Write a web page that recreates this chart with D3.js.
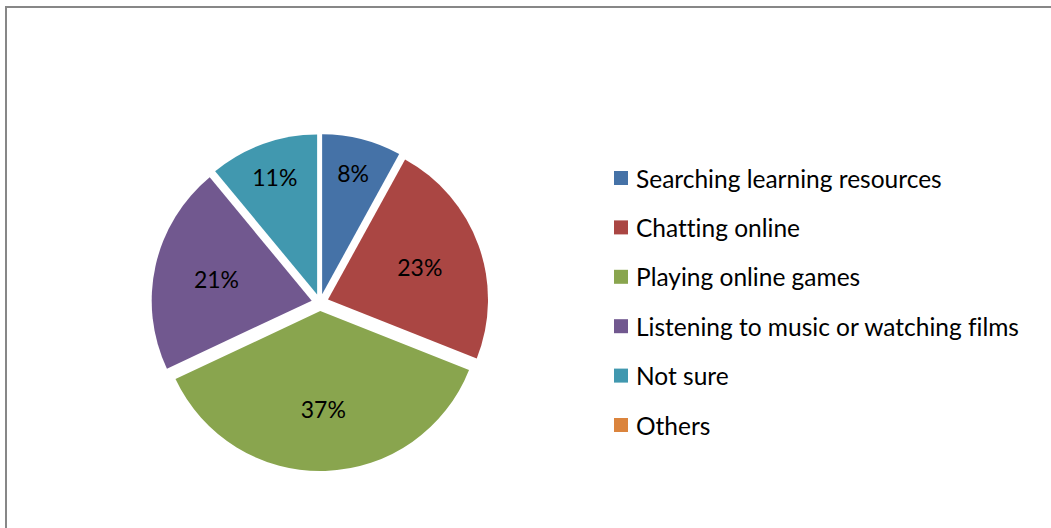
<!DOCTYPE html>
<html>
<head>
<meta charset="utf-8">
<script src="https://cdn.jsdelivr.net/npm/d3@7"></script>
<style>
  html, body { margin: 0; padding: 0; background: #fff; }
  svg { display: block; }
  text { font-family: Lato, "Open Sans", sans-serif; fill: #000; font-variant-ligatures: none; }
</style>
</head>
<body>
<svg id="chart" width="1051" height="528"></svg>
<script>
// Survey answers: how students use the internet
const categories = [
  "Searching learning resources",
  "Chatting online",
  "Playing online games",
  "Listening to music or watching films",
  "Not sure",
  "Others"
];
const shares = [8, 23, 37, 21, 11, 0];
const colors = ["#4572A7", "#AA4643", "#89A54E", "#71588F", "#4198AF", "#DB843D"];

const W = 1051, H = 528;
const svg = d3.select("#chart");

// chart frame
svg.append("rect")
  .attr("x", 6).attr("y", 7)
  .attr("width", W + 20).attr("height", H + 20)
  .attr("fill", "none")
  .attr("stroke", "#878787")
  .attr("stroke-width", 2);

const cx = 320, cy = 302.5, radius = 160, explode = 8.5;

const pie = d3.pie().sort(null).value(d => d.value);
const arc = d3.arc().innerRadius(0).outerRadius(radius);

const data = categories.map((c, i) => ({ name: c, value: shares[i], color: colors[i] }));
const arcs = pie(data).filter(a => a.data.value > 0);

const g = svg.append("g").attr("transform", `translate(${cx},${cy})`);

const slice = g.selectAll("g.slice")
  .data(arcs)
  .join("g")
  .attr("class", "slice")
  .attr("transform", a => {
    const mid = (a.startAngle + a.endAngle) / 2;
    return `translate(${explode * Math.sin(mid)},${-explode * Math.cos(mid)})`;
  });

slice.append("path")
  .attr("d", arc)
  .attr("fill", a => a.data.color);

// percentage labels: narrow slices sit nearer the rim
slice.append("text")
  .attr("transform", a => {
    const share = a.data.value / d3.sum(shares);
    const lr = share < 0.15 ? radius * 0.78 : radius * 0.61;
    const c = d3.arc().innerRadius(lr).outerRadius(lr).centroid(a);
    return `translate(${c[0]},${c[1]})`;
  })
  .attr("text-anchor", "middle")
  .attr("dominant-baseline", "central")
  .style("font-size", "23px")
  .text(a => Math.round(a.data.value / d3.sum(shares) * 100) + "%");

// legend
const legendY = d3.scalePoint().domain(categories).range([178, 425]);
const legend = svg.append("g").selectAll("g")
  .data(data)
  .join("g")
  .attr("transform", d => `translate(614,${legendY(d.name)})`);

legend.append("rect")
  .attr("x", 0).attr("y", -7)
  .attr("width", 14).attr("height", 14)
  .attr("fill", d => d.color);

legend.append("text")
  .attr("x", 22)
  .attr("dominant-baseline", "central")
  .style("font-size", "24.5px")
  .text(d => d.name);
</script>
</body>
</html>
